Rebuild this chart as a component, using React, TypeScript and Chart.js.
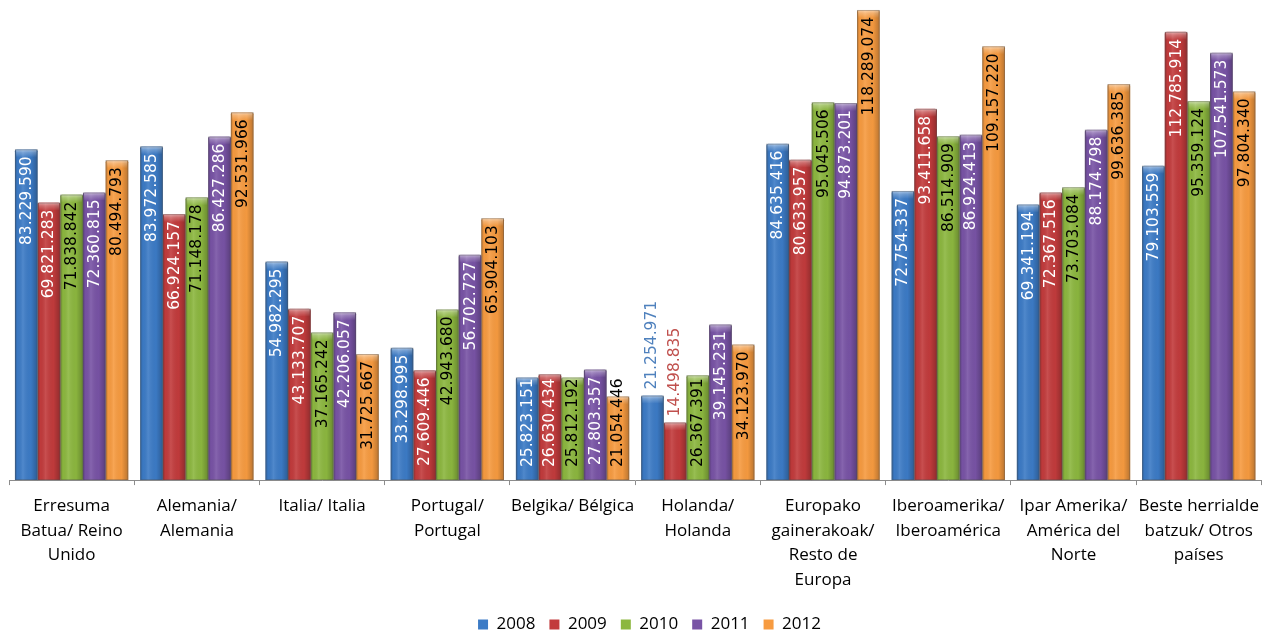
import React, { useEffect, useRef } from "react";
import { Chart, registerables } from "chart.js";

Chart.register(...registerables);

const categories: (string | string[])[] = [
  ["Erresuma", "Batua/ Reino", "Unido"],
  ["Alemania/", "Alemania"],
  "Italia/ Italia",
  ["Portugal/", "Portugal"],
  "Belgika/ Bélgica",
  ["Holanda/", "Holanda"],
  ["Europako", "gainerakoak/", "Resto de", "Europa"],
  ["Iberoamerika/", "Iberoamérica"],
  ["Ipar Amerika/", "América del", "Norte"],
  ["Beste herrialde", "batzuk/ Otros", "países"],
];

const seriesNames = ["2008", "2009", "2010", "2011", "2012"];

const values2008 = [83229590, 83972585, 54982295, 33298995, 25823151, 21254971, 84635416, 72754337, 69341194, 79103559];
const values2009 = [69821283, 66924157, 43133707, 27609446, 26630434, 14498835, 80633957, 93411658, 72367516, 112785914];
const values2010 = [71838842, 71148178, 37165242, 42943680, 25812192, 26367391, 95045506, 86514909, 73703084, 95359124];
const values2011 = [72360815, 86427286, 42206057, 56702727, 27803357, 39145231, 94873201, 86924413, 88174798, 107541573];
const values2012 = [80494793, 92531966, 31725667, 65904103, 21054446, 34123970, 118289074, 109157220, 99636385, 97804340];

const seriesValues = [values2008, values2009, values2010, values2011, values2012];
const barColors = ["#3C7BC6", "#C23B3C", "#8CB73F", "#7853A5", "#F79B40"];
const labelColors = ["#FFFFFF", "#FFFFFF", "#000000", "#FFFFFF", "#000000"];
const outsideColors = ["#4F81BD", "#C0504D", "#9BBB59", "#8064A2", "#F79646"];
// labels placed above the bar: [datasetIndex, categoryIndex]
const outsideLabels: [number, number][] = [[0, 5], [1, 5]];

const fmt = (v: number) => String(Math.round(v)).replace(/\B(?=(\d{3})+(?!\d))/g, ".");

const legendShift = {
  id: "legendShift",
  afterLayout(chart: any) {
    if (chart.legend) {
      chart.legend.left += 11;
      chart.legend.right += 11;
    }
  },
};

const barDecor = {
  id: "barDecor",
  afterDatasetsDraw(chart: any) {
    const ctx = chart.ctx as CanvasRenderingContext2D;
    chart.data.datasets.forEach((ds: any, di: number) => {
      const meta = chart.getDatasetMeta(di);
      meta.data.forEach((bar: any) => {
        const x = bar.x, y = bar.y, w = bar.width, base = bar.base;
        const left = x - w / 2;
        const h = base - y;
        ctx.save();
        const g = ctx.createLinearGradient(left, 0, left + w, 0);
        g.addColorStop(0, "rgba(0,0,0,0.22)");
        g.addColorStop(0.12, "rgba(0,0,0,0.02)");
        g.addColorStop(0.35, "rgba(255,255,255,0.10)");
        g.addColorStop(0.7, "rgba(0,0,0,0.02)");
        g.addColorStop(1, "rgba(0,0,0,0.25)");
        ctx.fillStyle = g;
        ctx.fillRect(left, y, w, h);
        const capH = Math.min(8, h);
        const g2 = ctx.createLinearGradient(0, y, 0, y + capH);
        g2.addColorStop(0, "rgba(255,255,255,0.55)");
        g2.addColorStop(0.4, "rgba(255,255,255,0.25)");
        g2.addColorStop(1, "rgba(255,255,255,0)");
        ctx.fillStyle = g2;
        ctx.fillRect(left + 1, y, w - 2, capH);
        ctx.strokeStyle = "rgba(80,80,80,0.35)";
        ctx.lineWidth = 1;
        ctx.strokeRect(left + 0.5, y + 0.5, w - 1, h - 1);
        ctx.restore();
      });
    });
    // value labels
    ctx.save();
    ctx.font = "15.5px 'DejaVu Sans'";
    chart.data.datasets.forEach((ds: any, di: number) => {
      const meta = chart.getDatasetMeta(di);
      meta.data.forEach((bar: any, i: number) => {
        const text = fmt(ds.data[i]);
        const tw = ctx.measureText(text).width;
        const outside = outsideLabels.some(([a, b]) => a === di && b === i);
        ctx.save();
        if (outside) {
          ctx.translate(bar.x, bar.y - 6);
          ctx.rotate(-Math.PI / 2);
          ctx.textAlign = "left";
          ctx.textBaseline = "middle";
          ctx.fillStyle = outsideColors[di];
          ctx.fillText(text, 0, 0);
        } else {
          let top = bar.y + 7;
          if (top + tw > bar.base - 13) top = bar.base - 13 - tw;
          ctx.translate(bar.x + 0.5, top);
          ctx.rotate(-Math.PI / 2);
          ctx.textAlign = "right";
          ctx.textBaseline = "middle";
          ctx.fillStyle = labelColors[di];
          ctx.fillText(text, 0, 0);
        }
        ctx.restore();
      });
    });
    ctx.restore();
  },
};

export default function App() {
  const ref = useRef<HTMLCanvasElement>(null);
  useEffect(() => {
    if (!ref.current) return;
    const chart = new Chart(ref.current, {
      type: "bar",
      data: {
        labels: categories,
        datasets: seriesNames.map((name, i) => ({
          label: name,
          data: seriesValues[i],
          backgroundColor: barColors[i],
          borderWidth: 0,
          borderRadius: { topLeft: 2, topRight: 2, bottomLeft: 0, bottomRight: 0 },
          categoryPercentage: 0.905,
          barPercentage: 1.0,
        })),
      },
      options: {
        responsive: false,
        animation: false,
        layout: { padding: { left: 9, right: 0, top: 0, bottom: -11 } },
        plugins: {
          legend: {
            position: "bottom",
            labels: {
              boxWidth: 10,
              boxHeight: 10,
              padding: 14,
              color: "#000",
              font: { family: "'Open Sans'", size: 17 },
            },
          },
          tooltip: { enabled: false },
        },
        scales: {
          x: {
            afterFit: (scale: any) => {
              scale.height += 1;
            },
            grid: {
              display: true,
              drawOnChartArea: false,
              drawTicks: true,
              tickLength: 5,
              color: "#8C8C8C",
              offset: true,
            },
            border: { display: true, color: "#8C8C8C", width: 1 },
            ticks: {
              color: "#000",
              padding: 9,
              maxRotation: 0,
              autoSkip: false,
              font: { family: "'Open Sans'", size: 17, lineHeight: 1.44 },
            },
          },
          y: {
            display: false,
            min: 0,
            max: 120800000,
          },
        },
      },
      plugins: [barDecor, legendShift],
    });
    return () => chart.destroy();
  }, []);
  return (
    <div style={{ position: "fixed", left: 0, top: 0, width: 1268, height: 632, background: "#fff" }}>
      <canvas ref={ref} width={1268} height={632} />
    </div>
  );
}
